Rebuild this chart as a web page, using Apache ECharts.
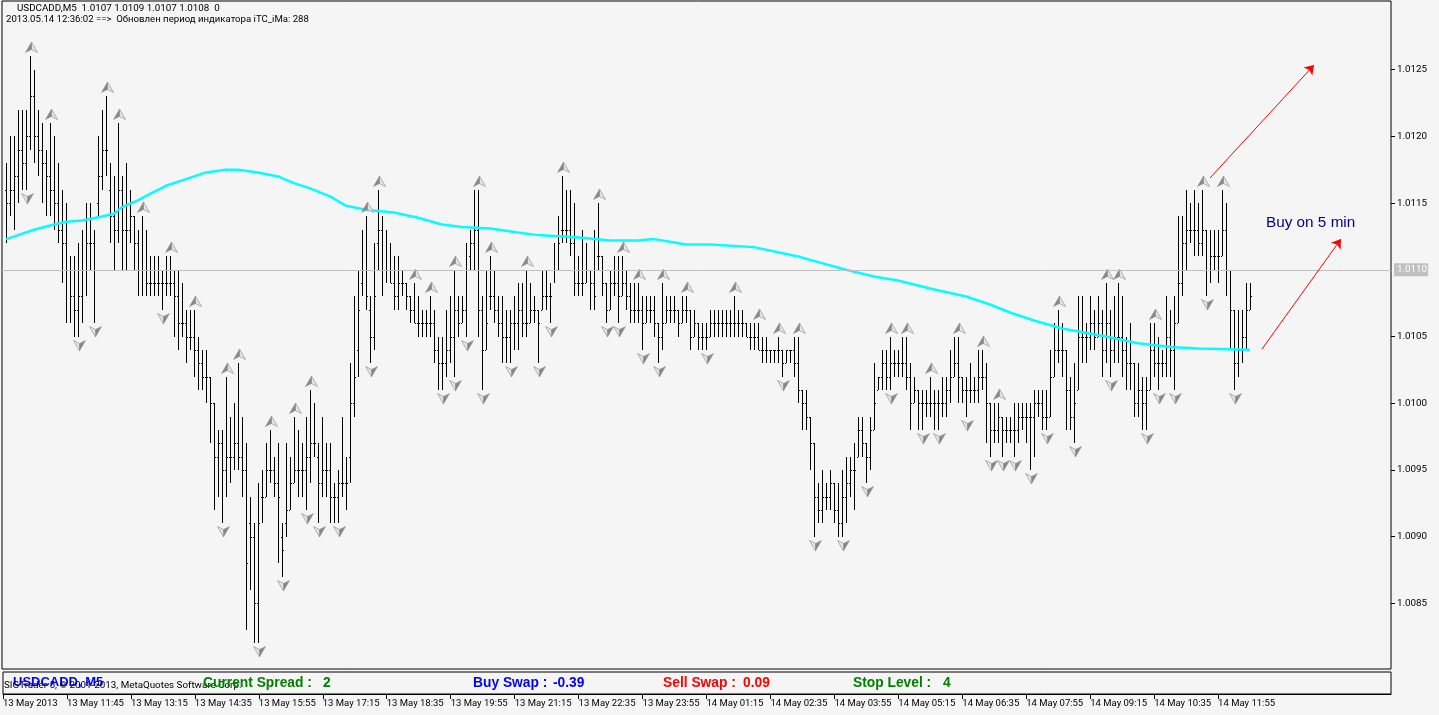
<!DOCTYPE html>
<html><head><meta charset="utf-8">
<style>html,body{margin:0;padding:0;background:#f5f5f5}#c{width:1439px;height:715px}</style>
<script src="https://cdn.jsdelivr.net/npm/echarts@6/dist/echarts.min.js"></script>
</head><body><div id="c"></div>
<script>
const highs=[1.0118,1.0120,1.0120,1.0122,1.0122,1.0122,1.0126,1.0125,1.0122,1.0121,
1.0119,1.0121,1.0120,1.0118,1.0116,1.0115,1.0111,1.0111,1.0112,1.0113,
1.0115,1.0115,1.0113,1.0120,1.0122,1.0123,1.0118,1.0117,1.0121,1.0117,
1.0118,1.0116,1.0114,1.0113,1.0114,1.0113,1.0111,1.0111,1.0111,1.0110,
1.0111,1.0111,1.0110,1.0110,1.0109,1.0107,1.0107,1.0107,1.0105,1.0104,
1.0104,1.0102,1.0100,1.0098,1.0098,1.0102,1.0099,1.0100,1.0103,1.0099,
1.0097,1.0093,1.0091,1.0094,1.0095,1.0097,1.0098,1.0096,1.0097,1.0091,
1.0097,1.0096,1.0099,1.0098,1.0097,1.0099,1.0101,1.0100,1.0097,1.0099,
1.0097,1.0097,1.0094,1.0095,1.0099,1.0096,1.0103,1.0108,1.0110,1.0113,
1.0114,1.0108,1.0112,1.0116,1.0114,1.0113,1.0112,1.0111,1.0111,1.0110,
1.0109,1.0108,1.0109,1.0108,1.0107,1.0107,1.0108,1.0107,1.0105,1.0105,
1.0107,1.0108,1.0110,1.0108,1.0108,1.0112,1.0113,1.0116,1.0116,1.0108,
1.0110,1.0111,1.0110,1.0108,1.0108,1.0107,1.0107,1.0108,1.0109,1.0109,
1.0110,1.0109,1.0108,1.0107,1.0110,1.0110,1.0109,1.0112,1.0114,1.0117,
1.0116,1.0116,1.0115,1.0111,1.0113,1.0112,1.0110,1.0113,1.0115,1.0111,
1.0109,1.0110,1.0111,1.0111,1.0111,1.0110,1.0109,1.0109,1.0109,1.0108,
1.0108,1.0108,1.0108,1.0106,1.0109,1.0108,1.0108,1.0108,1.0107,1.0108,
1.0108,1.0107,1.0107,1.0106,1.0106,1.0106,1.0107,1.0107,1.0107,1.0107,
1.0107,1.0107,1.0108,1.0107,1.0107,1.0106,1.0106,1.0106,1.0106,1.0105,
1.0105,1.0104,1.0104,1.0105,1.0104,1.0104,1.0104,1.0105,1.0105,1.0101,
1.0101,1.0099,1.0097,1.0094,1.0095,1.0094,1.0095,1.0094,1.0094,1.0095,
1.0096,1.0096,1.0097,1.0099,1.0099,1.0097,1.0099,1.0103,1.0102,1.0104,
1.0104,1.0105,1.0104,1.0104,1.0105,1.0105,1.0103,1.0102,1.0101,1.0101,
1.0101,1.0102,1.0101,1.0101,1.0102,1.0102,1.0104,1.0105,1.0105,1.0102,
1.0102,1.0103,1.0102,1.0104,1.0104,1.0103,1.0100,1.0100,1.0100,1.0099,
1.0099,1.0099,1.0100,1.0100,1.0100,1.0100,1.0100,1.0101,1.0101,1.0101,
1.0101,1.0104,1.0106,1.0107,1.0106,1.0104,1.0102,1.0103,1.0108,1.0108,
1.0106,1.0108,1.0107,1.0108,1.0107,1.0109,1.0107,1.0108,1.0109,1.0108,
1.0105,1.0106,1.0103,1.0103,1.0102,1.0102,1.0106,1.0106,1.0105,1.0104,
1.0108,1.0107,1.0108,1.0114,1.0114,1.0116,1.0115,1.0116,1.0115,1.0116,
1.0113,1.0113,1.0113,1.0113,1.0116,1.0115,1.0110,1.0107,1.0107,1.0107,
1.0109,1.0109];
const lows=[1.0112,1.0114,1.0113,1.0115,1.0116,1.0116,1.0119,1.0118,1.0117,1.0115,
1.0114,1.0114,1.0113,1.0112,1.0109,1.0106,1.0106,1.0105,1.0105,1.0106,
1.0108,1.0110,1.0106,1.0114,1.0116,1.0117,1.0112,1.0110,1.0112,1.0110,
1.0110,1.0112,1.0110,1.0108,1.0108,1.0108,1.0108,1.0108,1.0108,1.0107,
1.0108,1.0108,1.0105,1.0104,1.0105,1.0103,1.0104,1.0102,1.0101,1.0101,
1.0100,1.0097,1.0092,1.0093,1.0091,1.0093,1.0094,1.0095,1.0095,1.0093,
1.0083,1.0086,1.0082,1.0082,1.0091,1.0093,1.0094,1.0093,1.0088,1.0087,
1.0090,1.0092,1.0094,1.0093,1.0093,1.0092,1.0094,1.0096,1.0091,1.0093,
1.0093,1.0091,1.0091,1.0091,1.0093,1.0092,1.0094,1.0099,1.0102,1.0108,
1.0107,1.0103,1.0104,1.0110,1.0108,1.0109,1.0109,1.0107,1.0107,1.0108,
1.0107,1.0106,1.0106,1.0105,1.0105,1.0105,1.0105,1.0103,1.0101,1.0101,
1.0102,1.0103,1.0102,1.0105,1.0106,1.0105,1.0110,1.0110,1.0105,1.0101,
1.0104,1.0107,1.0106,1.0105,1.0103,1.0103,1.0103,1.0104,1.0104,1.0105,
1.0105,1.0106,1.0106,1.0103,1.0107,1.0107,1.0106,1.0109,1.0110,1.0112,
1.0112,1.0111,1.0108,1.0108,1.0108,1.0109,1.0107,1.0107,1.0110,1.0108,
1.0106,1.0107,1.0108,1.0106,1.0108,1.0107,1.0106,1.0106,1.0106,1.0104,
1.0106,1.0106,1.0105,1.0103,1.0104,1.0106,1.0106,1.0106,1.0105,1.0106,
1.0106,1.0104,1.0105,1.0104,1.0104,1.0104,1.0105,1.0105,1.0105,1.0105,
1.0105,1.0105,1.0105,1.0105,1.0105,1.0105,1.0104,1.0104,1.0104,1.0103,
1.0103,1.0103,1.0103,1.0103,1.0102,1.0103,1.0103,1.0102,1.0100,1.0098,
1.0098,1.0095,1.0090,1.0091,1.0091,1.0092,1.0092,1.0091,1.0090,1.0090,
1.0091,1.0093,1.0092,1.0096,1.0096,1.0094,1.0095,1.0098,1.0101,1.0101,
1.0101,1.0101,1.0102,1.0102,1.0102,1.0101,1.0098,1.0100,1.0098,1.0098,
1.0099,1.0099,1.0098,1.0098,1.0099,1.0099,1.0100,1.0102,1.0100,1.0100,
1.0099,1.0100,1.0100,1.0100,1.0101,1.0097,1.0096,1.0097,1.0097,1.0096,
1.0097,1.0097,1.0096,1.0097,1.0098,1.0097,1.0095,1.0096,1.0099,1.0098,
1.0098,1.0099,1.0102,1.0103,1.0102,1.0098,1.0098,1.0097,1.0101,1.0103,
1.0103,1.0104,1.0104,1.0105,1.0102,1.0103,1.0102,1.0103,1.0103,1.0102,
1.0101,1.0101,1.0099,1.0099,1.0098,1.0098,1.0101,1.0102,1.0101,1.0102,
1.0102,1.0102,1.0101,1.0106,1.0108,1.0110,1.0112,1.0111,1.0111,1.0111,
1.0108,1.0109,1.0110,1.0109,1.0111,1.0108,1.0104,1.0101,1.0102,1.0103,
1.0104,1.0107];
const closes=[1.0115,1.0116,1.0117,1.0119,1.0118,1.0120,1.0123,1.0120,1.0119,1.0118,
1.0117,1.0116,1.0115,1.0113,1.0112,1.0110,1.0108,1.0107,1.0108,1.0110,
1.0112,1.0112,1.0110,1.0117,1.0119,1.0119,1.0114,1.0113,1.0116,1.0113,
1.0113,1.0114,1.0112,1.0110,1.0110,1.0109,1.0109,1.0109,1.0109,1.0109,
1.0109,1.0109,1.0108,1.0106,1.0106,1.0105,1.0105,1.0104,1.0103,1.0102,
1.0102,1.0100,1.0096,1.0097,1.0095,1.0096,1.0096,1.0097,1.0096,1.0095,
1.0088,1.0090,1.0085,1.0091,1.0093,1.0095,1.0095,1.0094,1.0093,1.0089,
1.0092,1.0094,1.0095,1.0095,1.0095,1.0096,1.0097,1.0097,1.0094,1.0095,
1.0095,1.0093,1.0093,1.0094,1.0094,1.0094,1.0100,1.0102,1.0107,1.0110,
1.0108,1.0105,1.0108,1.0113,1.0110,1.0110,1.0109,1.0108,1.0109,1.0109,
1.0108,1.0107,1.0106,1.0106,1.0106,1.0106,1.0106,1.0104,1.0103,1.0103,
1.0104,1.0105,1.0107,1.0106,1.0107,1.0110,1.0112,1.0113,1.0107,1.0104,
1.0106,1.0108,1.0107,1.0106,1.0105,1.0105,1.0106,1.0106,1.0107,1.0106,
1.0106,1.0107,1.0107,1.0106,1.0108,1.0108,1.0108,1.0110,1.0112,1.0113,
1.0113,1.0112,1.0109,1.0109,1.0109,1.0110,1.0109,1.0108,1.0111,1.0109,
1.0107,1.0109,1.0109,1.0108,1.0109,1.0108,1.0107,1.0107,1.0107,1.0106,
1.0107,1.0107,1.0106,1.0105,1.0106,1.0107,1.0107,1.0107,1.0106,1.0107,
1.0107,1.0105,1.0106,1.0105,1.0105,1.0105,1.0106,1.0106,1.0106,1.0106,
1.0106,1.0106,1.0106,1.0106,1.0106,1.0105,1.0105,1.0105,1.0104,1.0104,
1.0104,1.0104,1.0104,1.0104,1.0103,1.0104,1.0104,1.0103,1.0101,1.0100,
1.0099,1.0097,1.0093,1.0092,1.0093,1.0093,1.0094,1.0092,1.0091,1.0093,
1.0094,1.0095,1.0095,1.0098,1.0097,1.0096,1.0098,1.0100,1.0102,1.0103,
1.0102,1.0103,1.0103,1.0103,1.0103,1.0102,1.0100,1.0101,1.0100,1.0100,
1.0100,1.0100,1.0100,1.0100,1.0100,1.0101,1.0102,1.0103,1.0102,1.0101,
1.0101,1.0101,1.0101,1.0102,1.0102,1.0100,1.0098,1.0098,1.0099,1.0098,
1.0098,1.0098,1.0098,1.0099,1.0099,1.0099,1.0099,1.0100,1.0100,1.0099,
1.0099,1.0102,1.0104,1.0104,1.0104,1.0101,1.0099,1.0100,1.0105,1.0105,
1.0105,1.0106,1.0105,1.0106,1.0104,1.0106,1.0104,1.0105,1.0105,1.0104,
1.0103,1.0103,1.0100,1.0101,1.0100,1.0101,1.0104,1.0103,1.0103,1.0103,
1.0105,1.0104,1.0106,1.0109,1.0112,1.0113,1.0113,1.0113,1.0112,1.0113,
1.0110,1.0111,1.0111,1.0111,1.0113,1.0110,1.0107,1.0103,1.0104,1.0105,
1.0107,1.0108];
const opens=[1.0116,1.0115,1.0116,1.0117,1.0119,1.0118,1.0120,1.0123,1.0120,1.0119,
1.0118,1.0117,1.0116,1.0115,1.0113,1.0112,1.0110,1.0108,1.0107,1.0108,
1.0110,1.0112,1.0112,1.0115,1.0117,1.0119,1.0116,1.0114,1.0113,1.0116,
1.0113,1.0113,1.0114,1.0112,1.0110,1.0110,1.0109,1.0109,1.0109,1.0109,
1.0109,1.0109,1.0109,1.0108,1.0106,1.0106,1.0105,1.0105,1.0104,1.0103,
1.0102,1.0102,1.0100,1.0096,1.0097,1.0095,1.0096,1.0096,1.0097,1.0096,
1.0095,1.0091,1.0090,1.0085,1.0093,1.0093,1.0095,1.0095,1.0094,1.0090,
1.0091,1.0092,1.0094,1.0095,1.0095,1.0095,1.0096,1.0097,1.0096,1.0094,
1.0095,1.0095,1.0093,1.0093,1.0094,1.0094,1.0096,1.0100,1.0104,1.0109,
1.0110,1.0107,1.0105,1.0112,1.0113,1.0110,1.0110,1.0109,1.0108,1.0109,
1.0109,1.0108,1.0107,1.0106,1.0106,1.0106,1.0106,1.0106,1.0104,1.0103,
1.0103,1.0104,1.0105,1.0107,1.0106,1.0107,1.0111,1.0112,1.0113,1.0107,
1.0104,1.0108,1.0108,1.0107,1.0106,1.0105,1.0105,1.0106,1.0106,1.0107,
1.0106,1.0106,1.0107,1.0107,1.0107,1.0108,1.0108,1.0110,1.0110,1.0113,
1.0113,1.0113,1.0112,1.0109,1.0109,1.0109,1.0110,1.0109,1.0111,1.0111,
1.0109,1.0107,1.0109,1.0109,1.0108,1.0109,1.0108,1.0107,1.0107,1.0107,
1.0106,1.0107,1.0107,1.0106,1.0105,1.0106,1.0107,1.0107,1.0107,1.0106,
1.0107,1.0107,1.0105,1.0106,1.0105,1.0105,1.0105,1.0106,1.0106,1.0106,
1.0106,1.0106,1.0106,1.0106,1.0106,1.0106,1.0105,1.0105,1.0105,1.0104,
1.0104,1.0104,1.0104,1.0104,1.0104,1.0103,1.0104,1.0104,1.0103,1.0101,
1.0100,1.0099,1.0097,1.0093,1.0092,1.0093,1.0093,1.0094,1.0092,1.0091,
1.0093,1.0094,1.0095,1.0095,1.0098,1.0097,1.0096,1.0098,1.0101,1.0102,
1.0103,1.0102,1.0103,1.0103,1.0103,1.0103,1.0102,1.0100,1.0101,1.0100,
1.0100,1.0100,1.0100,1.0100,1.0100,1.0100,1.0101,1.0102,1.0103,1.0102,
1.0101,1.0101,1.0101,1.0101,1.0102,1.0102,1.0100,1.0098,1.0098,1.0099,
1.0098,1.0098,1.0098,1.0098,1.0099,1.0099,1.0099,1.0099,1.0100,1.0100,
1.0099,1.0099,1.0102,1.0104,1.0104,1.0104,1.0101,1.0099,1.0101,1.0105,
1.0105,1.0105,1.0106,1.0105,1.0106,1.0104,1.0106,1.0104,1.0105,1.0105,
1.0104,1.0103,1.0103,1.0100,1.0101,1.0100,1.0101,1.0104,1.0103,1.0103,
1.0103,1.0105,1.0104,1.0106,1.0109,1.0112,1.0113,1.0113,1.0113,1.0112,
1.0113,1.0110,1.0111,1.0111,1.0111,1.0113,1.0110,1.0107,1.0103,1.0104,
1.0105,1.0107];
const maBars=[0,3,7,12,15,19,24,27,29,33,36,40,45,50,55,58,63,68,72,76,81,85,90,97,103,109,114,121,128,133,139,144,151,158,162,166,170,176,187,198,204,210,217,223,231,240,246,251,257,264,275,283,292,298,311];
const maValues=[1.01123,1.01126,1.01130,1.01134,1.01136,1.01137,1.01140,1.01142,1.01147,1.01152,1.01157,1.01163,1.01168,1.01173,1.01175,1.01175,1.01173,1.01170,1.01165,1.01161,1.01155,1.01148,1.01145,1.01143,1.01139,1.01134,1.01132,1.01131,1.01128,1.01126,1.01125,1.01124,1.01122,1.01122,1.01123,1.01121,1.01119,1.01119,1.01117,1.01110,1.01105,1.01100,1.01095,1.01092,1.01086,1.01080,1.01074,1.01068,1.01062,1.01056,1.01050,1.01045,1.01042,1.01041,1.01040];
const fractalUp=[6,11,25,28,34,41,47,55,58,66,72,76,90,93,102,106,112,118,121,130,139,148,154,158,164,170,182,188,193,198,221,225,231,238,244,248,263,275,278,287,299,304];
const fractalDown=[5,18,22,39,54,63,69,75,78,83,91,109,112,115,119,126,133,136,150,153,159,163,175,194,202,209,215,221,229,233,240,246,249,252,256,260,267,276,285,288,292,300,307];
const priceTicks=[1.0085,1.0090,1.0095,1.0100,1.0105,1.0115,1.0120,1.0125];
const currentPrice=1.0110;
const timeLabels=['13 May 2013','13 May 11:45','13 May 13:15','13 May 14:35','13 May 15:55','13 May 17:15','13 May 18:35','13 May 19:55','13 May 21:15','13 May 22:35','13 May 23:55','14 May 01:15','14 May 02:35','14 May 03:55','14 May 05:15','14 May 06:35','14 May 07:55','14 May 09:15','14 May 10:35','14 May 11:55'];
const arrowUpper=[[302,1.011688],[328,1.012535]];
const arrowLower=[[315,1.010406],[334.75,1.011231]];
const slots=347.25, labelStep=16;
const barRows=highs.map((h,i)=>[i+1,opens[i],h,lows[i],closes[i]]);
const font='Roboto,"Liberation Sans",Arial,sans-serif';
const boldFont='"Liberation Sans",Arial,sans-serif';

function renderBar(params,api){
  const x=Math.round(api.coord([api.value(0),api.value(2)])[0]);
  const hi=api.value(2), lo=api.value(3);
  const yH=Math.round(api.coord([0,hi])[1]), yL=Math.round(api.coord([0,lo])[1]);
  const o=Math.min(hi,Math.max(lo,api.value(1))), c=Math.min(hi,Math.max(lo,api.value(4)));
  const yO=Math.round(api.coord([0,o])[1]), yC=Math.round(api.coord([0,c])[1]);
  const black={fill:'#000'};
  return {type:'group',children:[
    {type:'rect',shape:{x:x,y:yH,width:1,height:yL-yH},style:black},
    {type:'rect',shape:{x:x-1,y:yO,width:1,height:1},style:black},
    {type:'rect',shape:{x:x+1,y:yC,width:1,height:1},style:black}]};
}
function renderFractal(dir){return function(params,api){
  const p=api.coord([api.value(0),api.value(1)]);
  const x=Math.round(p[0])+1.5, y=Math.round(p[1]);
  const s=dir; // -1 up, 1 down
  const base=y+s*3.5, tip=y+s*14, notch=y+s*6.5;
  const wing=s<0?-6:6;
  return {type:'group',children:[
    {type:'polygon',shape:{points:[[x,tip],[x-wing,base],[x,notch]]},style:{fill:'#e6e6e8',stroke:'#a9b0ba',lineWidth:1}},
    {type:'polygon',shape:{points:[[x,tip],[x+wing,base],[x,notch]]},style:{fill:'#8b8682',stroke:'#9a9590',lineWidth:0.6}}
  ]};
};}

const chart=echarts.init(document.getElementById('c'),null,{renderer:'canvas',width:1439,height:715});
const sharedX={type:'value',min:0,max:slots,show:false};
chart.setOption({
  animation:false,
  backgroundColor:'#f5f5f5',
  grid:[
    {left:2,right:48,top:1,bottom:46,show:true,borderColor:'#000',borderWidth:1,backgroundColor:'#f5f5f5'},
    {left:2,right:48,top:672,bottom:21,show:true,borderColor:'#000',borderWidth:1,backgroundColor:'#f5f5f5'}
  ],
  xAxis:[
    Object.assign({gridIndex:0},sharedX),
    {gridIndex:1,type:'value',min:0,max:slots,
     axisLine:{show:true,onZero:false,lineStyle:{color:'#000'}},splitLine:{show:false},
     axisTick:{show:true,length:5,lineStyle:{color:'#000'},customValues:timeLabels.map((_,i)=>i*labelStep)},
     axisLabel:{show:true,customValues:timeLabels.map((_,i)=>i*labelStep),align:'left',margin:5,color:'#000',fontFamily:font,fontSize:9.5,
       formatter:v=>timeLabels[Math.round(v/labelStep)]||''}}
  ],
  yAxis:[
    {gridIndex:0,type:'value',position:'right',min:1.0080075,max:1.013015,splitLine:{show:false},
     axisLine:{show:false,onZero:false},
     axisTick:{show:true,length:4,inside:false,lineStyle:{color:'#000'},customValues:priceTicks},
     axisLabel:{show:true,customValues:priceTicks,margin:6,color:'#000',fontFamily:font,fontSize:9.8,formatter:v=>v.toFixed(4)}},
    {gridIndex:1,type:'value',show:false,min:0,max:1}
  ],
  series:[
    {name:'Price line',type:'line',data:[],xAxisIndex:0,yAxisIndex:0,z:1,clip:false,
     markLine:{silent:true,symbol:'none',animation:false,precision:5,data:[{yAxis:currentPrice,
       lineStyle:{color:'#c0c0c0',width:1,type:'solid'},
       label:{show:true,position:'end',distance:3,formatter:currentPrice.toFixed(4),color:'#fff',backgroundColor:'#c0c0c0',fontFamily:font,fontSize:9.8,padding:[2,1,1,3]}}]}},
    {name:'USDCADD,M5',type:'custom',xAxisIndex:0,yAxisIndex:0,z:2,clip:false,data:barRows,renderItem:renderBar,encode:{x:0,y:[1,2,3,4]}},
    {name:'iTC_iMa',type:'line',xAxisIndex:0,yAxisIndex:0,z:3,clip:false,symbol:'none',smooth:false,
     lineStyle:{color:'#00ffff',width:2.5},data:maBars.map((b,i)=>[b+1,maValues[i]])},
    {name:'Fractal up',type:'custom',xAxisIndex:0,yAxisIndex:0,z:4,clip:false,renderItem:renderFractal(-1),encode:{x:0,y:1},
     data:fractalUp.map(i=>[i+1,highs[i]])},
    {name:'Fractal down',type:'custom',xAxisIndex:0,yAxisIndex:0,z:4,clip:false,renderItem:renderFractal(1),encode:{x:0,y:1},
     data:fractalDown.map(i=>[i+1,lows[i]])},
    {name:'Arrows',type:'line',data:[],xAxisIndex:0,yAxisIndex:0,z:5,clip:false,
     markLine:{silent:true,animation:false,precision:6,label:{show:false},lineStyle:{color:'#ff0000',width:1,type:'solid'},
       data:[[{coord:arrowUpper[0],symbol:'none'},{coord:arrowUpper[1],symbol:'arrow',symbolSize:9}],
             [{coord:arrowLower[0],symbol:'none'},{coord:arrowLower[1],symbol:'arrow',symbolSize:9}]]}}
  ],
  graphic:[
    {type:'text',z:10,x:17,y:4,style:{text:'USDCADD,M5  1.0107 1.0109 1.0107 1.0108  0',fill:'#000',font:'9.8px '+font}},
    {type:'text',z:10,x:6,y:15,style:{text:'2013.05.14 12:36:02 ==>  Обновлен период индикатора iTC_iMa: 288',fill:'#000',font:'9.6px '+font}},
    {type:'text',z:10,x:1266,y:215,style:{text:'Buy on 5 min',fill:'#00008b',font:'15.3px '+boldFont}},
    {type:'text',z:9,x:13,y:676,style:{text:'USDCADD, M5',fill:'#0000ff',font:'bold 13px '+boldFont}},
    {type:'text',z:10,x:4,y:681,style:{text:'SIGTrader 5, © 2001-2013, MetaQuotes Software Corp.',fill:'#000',font:'9.8px '+font}},
    {type:'text',z:11,x:203,y:676,style:{text:'Current Spread :',fill:'#008000',font:'bold 13.8px '+boldFont}},
    {type:'text',z:11,x:323,y:676,style:{text:'2',fill:'#008000',font:'bold 13.8px '+boldFont}},
    {type:'text',z:11,x:473,y:676,style:{text:'Buy Swap :',fill:'#0000ff',font:'bold 13.8px '+boldFont}},
    {type:'text',z:11,x:553,y:676,style:{text:'-0.39',fill:'#0000ff',font:'bold 13.8px '+boldFont}},
    {type:'text',z:11,x:663,y:676,style:{text:'Sell Swap :',fill:'#ff0000',font:'bold 13.8px '+boldFont}},
    {type:'text',z:11,x:743,y:676,style:{text:'0.09',fill:'#ff0000',font:'bold 13.8px '+boldFont}},
    {type:'text',z:11,x:853,y:676,style:{text:'Stop Level :',fill:'#008000',font:'bold 13.8px '+boldFont}},
    {type:'text',z:11,x:943,y:676,style:{text:'4',fill:'#008000',font:'bold 13.8px '+boldFont}}
  ]
});
</script></body></html>
